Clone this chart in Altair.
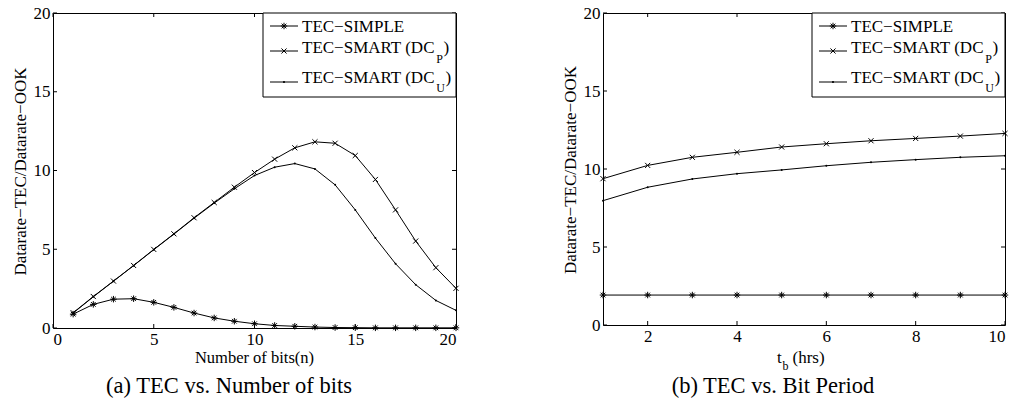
import altair as alt
import pandas as pd

# ---- data -------------------------------------------------------------
bits = [1, 2, 3, 4, 5, 6, 7, 8, 9, 10, 11, 12, 13, 14, 15, 16, 17, 18, 19, 20]
simple_bits = [0.88, 1.50, 1.83, 1.86, 1.63, 1.31, 0.95, 0.64, 0.43, 0.27,
               0.16, 0.11, 0.06, 0.03, 0.02, 0.01, 0.01, 0.01, 0.01, 0.01]
dcp_bits = [0.97, 2.00, 2.98, 3.97, 4.99, 5.98, 7.00, 7.97, 8.94, 9.87,
            10.72, 11.44, 11.82, 11.73, 10.95, 9.43, 7.50, 5.52, 3.83, 2.52]
dcu_bits = [0.95, 1.98, 2.97, 3.96, 4.97, 5.96, 6.97, 7.93, 8.84, 9.68,
            10.21, 10.44, 10.10, 9.09, 7.50, 5.71, 4.08, 2.75, 1.75, 1.12]

hours = [1, 2, 3, 4, 5, 6, 7, 8, 9, 10]
simple_hours = [1.92, 1.92, 1.92, 1.92, 1.92, 1.92, 1.92, 1.92, 1.92, 1.92]
dcp_hours = [9.38, 10.23, 10.75, 11.07, 11.41, 11.62, 11.81, 11.96, 12.11, 12.28]
dcu_hours = [7.97, 8.83, 9.36, 9.70, 9.94, 10.21, 10.43, 10.60, 10.75, 10.85]

bits_ticks = [0, 5, 10, 15, 20]
hours_ticks = [2, 4, 6, 8, 10]
y_ticks = [0, 5, 10, 15, 20]

SERIES = ["TEC-SIMPLE", "TEC-SMART (DCP)", "TEC-SMART (DCU)"]

# ---- styling ----------------------------------------------------------
FONT = "Liberation Serif, Times New Roman, serif"
INK = "#000000"
ASTERISK = "M-1,0L1,0M0,-1L0,1M-0.72,-0.72L0.72,0.72M-0.72,0.72L0.72,-0.72"
XMARK = "M-1,-1L1,1M-1,1L1,-1"
TICK_LEN = 4

# Times metrics (1/1000 em) used to place subscripts after a text run
TIMES_W = {"T": 611, "E": 611, "C": 667, "S": 556, "M": 889, "A": 722,
           "R": 667, "I": 333, "P": 556, "L": 611, "D": 722, "U": 722,
           " ": 250, "(": 333, ")": 333, "\u2212": 564}


def text_width(s, size):
    return sum(TIMES_W.get(c, 500) for c in s) * size / 1000.0


one = pd.DataFrame({"k": [0]})


def text_at(x, y, txt, size=17, align="left", baseline="alphabetic", angle=0):
    kw = dict(text=txt, font=FONT, fontSize=size, color=INK, align=align,
              baseline=baseline)
    if angle:
        kw["angle"] = angle
    return alt.Chart(one).mark_text(**kw).encode(x=alt.value(x), y=alt.value(y))


def legend_layers(width):
    box_x = width - 193
    line_x1, line_x2 = box_x + 7, box_x + 35
    tx = box_x + 39
    fs, ss = 17, 12
    layers = [
        alt.Chart(one).mark_rect(fill="white", stroke=INK, strokeWidth=1).encode(
            x=alt.value(box_x), x2=alt.value(width), y=alt.value(0), y2=alt.value(84)),
    ]
    rows = [
        (13, 18.6, "TEC\u2212SIMPLE", None, None, ASTERISK, 42),
        (38, 40.3, "TEC\u2212SMART (DC", "P", 49.5, XMARK, 26),
        (69, 70.3, "TEC\u2212SMART (DC", "U", 79.0, "circle", 5),
    ]
    for ly, ty, main, sub, sy, shape, size in rows:
        layers.append(
            alt.Chart(one).mark_rule(color=INK, strokeWidth=1).encode(
                x=alt.value(line_x1), x2=alt.value(line_x2), y=alt.value(ly)))
        if shape == "circle":
            pt = alt.Chart(one).mark_point(shape="circle", filled=True, color=INK,
                                           size=size, opacity=1)
        else:
            pt = alt.Chart(one).mark_point(shape=shape, filled=False, color=INK,
                                           size=size, strokeWidth=1, opacity=1)
        layers.append(pt.encode(x=alt.value((line_x1 + line_x2) / 2), y=alt.value(ly)))
        layers.append(text_at(tx, ty, main, fs))
        if sub:
            sx = tx + text_width(main, fs) + 0.5
            layers.append(text_at(sx, sy, sub, ss))
            layers.append(text_at(sx + text_width(sub, ss) + 0.5, ty, ")", fs))
    return layers


def panel(xs, simple, dcp, dcu, x_domain, x_ticks, width, height, extra):
    df = pd.DataFrame({
        "x": xs * 3,
        "y": simple + dcp + dcu,
        "s": [SERIES[0]] * len(xs) + [SERIES[1]] * len(xs) + [SERIES[2]] * len(xs),
    })
    xs_scale = alt.Scale(domain=x_domain, nice=False, zero=False)
    ys_scale = alt.Scale(domain=[0, 20], nice=False)
    X = alt.X("x:Q", scale=xs_scale,
              axis=alt.Axis(values=x_ticks, title=None, labelPadding=3, format="d"))
    Y = alt.Y("y:Q", scale=ys_scale,
              axis=alt.Axis(values=y_ticks, title=None, labelPadding=3, format="d"))

    base = alt.Chart(df)
    layers = []
    for name in SERIES:
        layers.append(base.transform_filter(alt.datum.s == name)
                      .mark_line(color=INK, strokeWidth=1).encode(x=X, y=Y))
    layers.append(base.transform_filter(alt.datum.s == SERIES[0])
                  .mark_point(shape=ASTERISK, filled=False, color=INK, size=42,
                              strokeWidth=1, opacity=1).encode(x=X, y=Y))
    layers.append(base.transform_filter(alt.datum.s == SERIES[1])
                  .mark_point(shape=XMARK, filled=False, color=INK, size=26,
                              strokeWidth=1, opacity=1).encode(x=X, y=Y))
    layers.append(base.transform_filter(alt.datum.s == SERIES[2])
                  .mark_point(shape="circle", filled=True, color=INK, size=4,
                              opacity=1).encode(x=X, y=Y))

    # inward ticks on all four sides of the box (same fields as the curves,
    # so the shared axes stay merged)
    xt = pd.DataFrame({"x": x_ticks})
    yt = pd.DataFrame({"y": y_ticks})
    rule = dict(color=INK, strokeWidth=1)
    layers += [
        alt.Chart(xt).mark_rule(**rule).encode(x=X, y=alt.value(height),
                                               y2=alt.value(height - TICK_LEN)),
        alt.Chart(xt).mark_rule(**rule).encode(x=X, y=alt.value(0),
                                               y2=alt.value(TICK_LEN)),
        alt.Chart(yt).mark_rule(**rule).encode(y=Y, x=alt.value(0),
                                               x2=alt.value(TICK_LEN)),
        alt.Chart(yt).mark_rule(**rule).encode(y=Y, x=alt.value(width - TICK_LEN),
                                               x2=alt.value(width)),
    ]
    layers += legend_layers(width)
    # y-axis title
    layers.append(text_at(-27, height / 2 + 1, "Datarate\u2212TEC/Datarate\u2212OOK",
                          17, align="center", angle=270))
    layers += extra
    return alt.layer(*layers).properties(width=width, height=height)


LW, LH = 403, 315
RW, RH = 402, 312

left_extra = [
    text_at(LW / 2, 349.5, "Number of bits(n)", 16.5, align="center"),
    text_at(176, 380, "(a) TEC vs. Number of bits", 22.5, align="center"),
    # fixes the panel origin inside the page
    alt.Chart(one).mark_rect(opacity=0).encode(
        x=alt.value(-52), x2=alt.value(-51), y=alt.value(-12), y2=alt.value(-11)),
]
right_extra = [
    text_at(174, 350, "t", 17),
    text_at(179.5, 357, "b", 12),
    text_at(189.5, 350, "(hrs)", 17),
    text_at(170, 380, "(b) TEC vs. Bit Period", 22.5, align="center"),
]

left = panel(bits, simple_bits, dcp_bits, dcu_bits, [0, 20], bits_ticks, LW, LH, left_extra)
right = panel(hours, simple_hours, dcp_hours, dcu_hours, [1, 10], hours_ticks, RW, RH, right_extra)

chart = (
    alt.hconcat(left, right, spacing=147, bounds="flush")
    .properties(padding={"left": 0, "top": 0, "right": 0, "bottom": 0},
                background="white")
    .configure_view(stroke=INK, strokeWidth=1)
    .configure_axis(labelFont=FONT, labelFontSize=17, labelColor=INK,
                    ticks=False, domain=False, grid=False)
)

chart.save("out.html", embed_options={"renderer": "svg", "actions": False})
